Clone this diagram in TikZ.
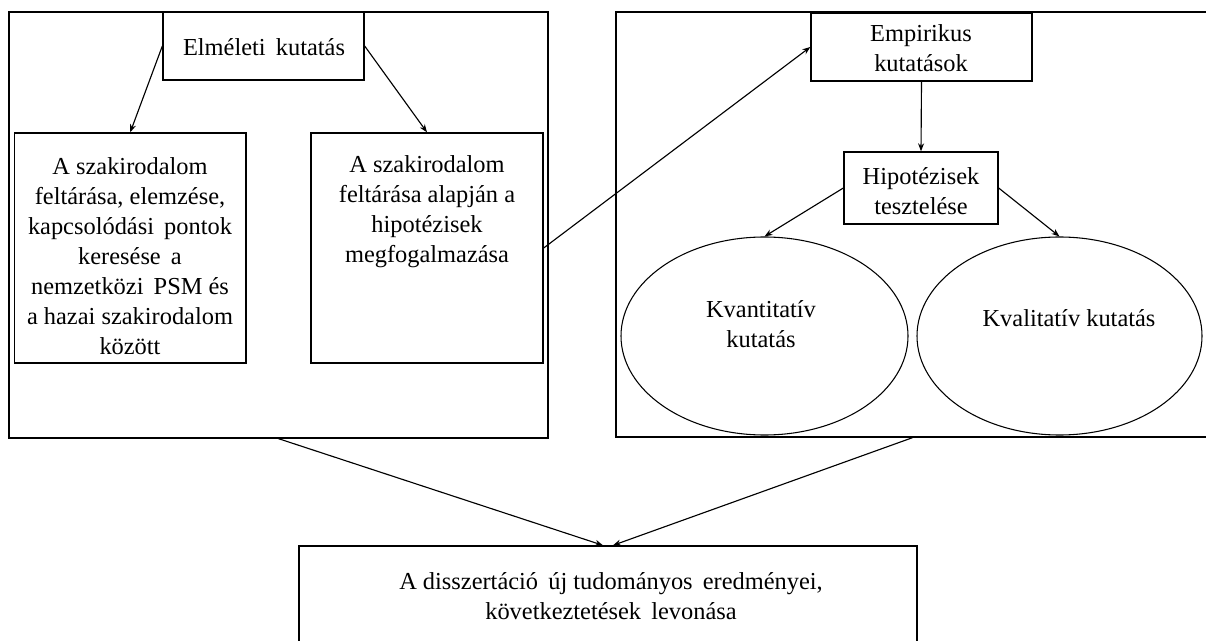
\documentclass[tikz,border=0pt]{standalone}
\usepackage{fontspec}
\setmainfont{Liberation Serif}
\usetikzlibrary{arrows.meta,shapes.geometric,fit,calc}
\newcommand\dfs{\fontsize{18.3}{22.5}\selectfont}
\begin{document}
\begin{tikzpicture}[x=0.75pt,y=-0.75pt,
  frame/.style={draw, line width=1pt, inner sep=0pt},
  oval/.style={draw, ellipse, line width=0.8pt, inner sep=0pt},
  txt/.style={font=\dfs, align=center, inner sep=0pt},
  arr/.style={-{Stealth[length=6pt,width=4.5pt]}, line width=0.85pt}]
\useasboundingbox (0,0) rectangle (1206,641);
\clip (0,0) rectangle (1206,641);
\fill[white] (0,0) rectangle (1206,641);
% big frames
\node[frame, fit={(9,12)(548,438)}] (L) {};
\node[frame, fit={(616,12)(1209,437)}] (R) {};
% left part
\node[frame, fill=white, fit={(163,12)(364,80)}] (E) {};
\node[txt] at (264,47) {Elméleti\, kutatás};
\node[frame, fit={(14.5,133)(246,363)}] (A1) {};
\node[txt] at (130,256) {A szakirodalom\\feltárása, elemzése,\\kapcsolódási\, pontok\\keresése\, a\\nemzetközi\, PSM és\\a hazai szakirodalom\\között};
\node[frame, fit={(311,133)(543,363)}] (A2) {};
\node[txt] at (427,212) {A szakirodalom\\feltárása alapján a\\hipotézisek\\megfogalmazása};
% right part
\node[frame, fit={(811,13)(1032,81)}] (Emp) {};
\node[txt] at (921,48) {Empirikus\\kutatások};
\node[frame, fit={(844,152)(998,224)}] (Hip) {};
\node[txt] at (921,191) {Hipotézisek\\tesztelése};
\node[oval, minimum width=215.25pt, minimum height=148.5pt] (K1) at (764.5,336) {};
\node[txt] at (761,324) {Kvantitatív\\kutatás};
\node[oval, minimum width=213.75pt, minimum height=148.5pt] (K2) at (1059.5,336) {};
\node[txt] at (1069,318) {Kvalitatív kutatás};
% bottom
\node[frame, fit={(299,546)(917,690)}] (D) {};
\node[txt] at (611,596) {A disszertáció\, új tudományos\, eredményei,\\következtetések\, levonása};
% connectors
\draw[arr] (E.west) -- (A1.north);
\draw[arr] (E.east) -- (A2.north);
\draw[arr] (A2.east) -- (Emp.west);
\draw[arr] (Emp.south) -- (Hip.north);
\draw[arr] (Hip.west) -- (K1.north);
\draw[arr] (Hip.east) -- (K2.north);
\draw[arr] (L.south) -- ($(D.north)+(-5,0)$);
\draw[arr] (R.south) -- ($(D.north)+(5,0)$);
\end{tikzpicture}
\end{document}
